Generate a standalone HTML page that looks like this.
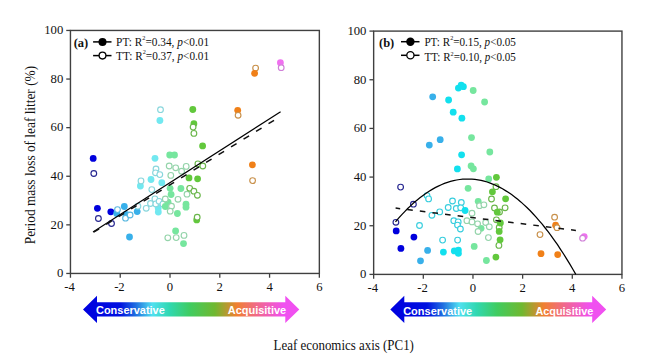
<!DOCTYPE html>
<html><head><meta charset="utf-8"><style>
html,body{margin:0;padding:0;background:#fff;}
svg{display:block;}
.tk{font-family:"Liberation Serif",serif;font-size:12.7px;fill:#111;}
.lg{font-family:"Liberation Serif",serif;font-size:12.2px;fill:#111;}
.pl{font-family:"Liberation Serif",serif;font-size:12.5px;font-weight:bold;fill:#111;}
.ti{font-family:"Liberation Serif",serif;font-size:14px;fill:#111;}
.ar{font-family:"Liberation Sans",sans-serif;font-size:11.6px;font-weight:bold;fill:#fff;}
</style></head><body>
<svg width="650" height="359" viewBox="0 0 650 359">
<rect width="650" height="359" fill="#fff"/>
<rect x="70.45" y="30.45" width="248.90000000000003" height="243.0" fill="none" stroke="#404040" stroke-width="1.4"/>
<line x1="66.25" y1="273.45" x2="70.45" y2="273.45" stroke="#404040" stroke-width="1.3"/>
<text transform="translate(63.25,277.25) scale(1,1.05)" text-anchor="end" class="tk">0</text>
<line x1="66.25" y1="224.85" x2="70.45" y2="224.85" stroke="#404040" stroke-width="1.3"/>
<text transform="translate(63.25,228.65) scale(1,1.05)" text-anchor="end" class="tk">20</text>
<line x1="66.25" y1="176.25" x2="70.45" y2="176.25" stroke="#404040" stroke-width="1.3"/>
<text transform="translate(63.25,180.05) scale(1,1.05)" text-anchor="end" class="tk">40</text>
<line x1="66.25" y1="127.65" x2="70.45" y2="127.65" stroke="#404040" stroke-width="1.3"/>
<text transform="translate(63.25,131.45) scale(1,1.05)" text-anchor="end" class="tk">60</text>
<line x1="66.25" y1="79.05" x2="70.45" y2="79.05" stroke="#404040" stroke-width="1.3"/>
<text transform="translate(63.25,82.85) scale(1,1.05)" text-anchor="end" class="tk">80</text>
<line x1="66.25" y1="30.45" x2="70.45" y2="30.45" stroke="#404040" stroke-width="1.3"/>
<text transform="translate(63.25,34.25) scale(1,1.05)" text-anchor="end" class="tk">100</text>
<line x1="70.45" y1="273.45" x2="70.45" y2="277.75" stroke="#404040" stroke-width="1.3"/>
<text transform="translate(69.65,290.85) scale(1,1.05)" text-anchor="middle" class="tk">-4</text>
<line x1="120.23" y1="273.45" x2="120.23" y2="277.75" stroke="#404040" stroke-width="1.3"/>
<text transform="translate(119.43,290.85) scale(1,1.05)" text-anchor="middle" class="tk">-2</text>
<line x1="170.01" y1="273.45" x2="170.01" y2="277.75" stroke="#404040" stroke-width="1.3"/>
<text transform="translate(170.01,290.85) scale(1,1.05)" text-anchor="middle" class="tk">0</text>
<line x1="219.79" y1="273.45" x2="219.79" y2="277.75" stroke="#404040" stroke-width="1.3"/>
<text transform="translate(219.79,290.85) scale(1,1.05)" text-anchor="middle" class="tk">2</text>
<line x1="269.57" y1="273.45" x2="269.57" y2="277.75" stroke="#404040" stroke-width="1.3"/>
<text transform="translate(269.57,290.85) scale(1,1.05)" text-anchor="middle" class="tk">4</text>
<line x1="319.35" y1="273.45" x2="319.35" y2="277.75" stroke="#404040" stroke-width="1.3"/>
<text transform="translate(319.35,290.85) scale(1,1.05)" text-anchor="middle" class="tk">6</text>
<rect x="373.65" y="31.1" width="248.30000000000007" height="243.29999999999998" fill="none" stroke="#404040" stroke-width="1.4"/>
<line x1="369.45" y1="274.40" x2="373.65" y2="274.40" stroke="#404040" stroke-width="1.3"/>
<text transform="translate(366.45,278.20) scale(1,1.05)" text-anchor="end" class="tk">0</text>
<line x1="369.45" y1="225.74" x2="373.65" y2="225.74" stroke="#404040" stroke-width="1.3"/>
<text transform="translate(366.45,229.54) scale(1,1.05)" text-anchor="end" class="tk">20</text>
<line x1="369.45" y1="177.08" x2="373.65" y2="177.08" stroke="#404040" stroke-width="1.3"/>
<text transform="translate(366.45,180.88) scale(1,1.05)" text-anchor="end" class="tk">40</text>
<line x1="369.45" y1="128.42" x2="373.65" y2="128.42" stroke="#404040" stroke-width="1.3"/>
<text transform="translate(366.45,132.22) scale(1,1.05)" text-anchor="end" class="tk">60</text>
<line x1="369.45" y1="79.76" x2="373.65" y2="79.76" stroke="#404040" stroke-width="1.3"/>
<text transform="translate(366.45,83.56) scale(1,1.05)" text-anchor="end" class="tk">80</text>
<line x1="369.45" y1="31.10" x2="373.65" y2="31.10" stroke="#404040" stroke-width="1.3"/>
<text transform="translate(366.45,34.90) scale(1,1.05)" text-anchor="end" class="tk">100</text>
<line x1="373.65" y1="274.4" x2="373.65" y2="278.7" stroke="#404040" stroke-width="1.3"/>
<text transform="translate(372.85,291.80) scale(1,1.05)" text-anchor="middle" class="tk">-4</text>
<line x1="423.31" y1="274.4" x2="423.31" y2="278.7" stroke="#404040" stroke-width="1.3"/>
<text transform="translate(422.51,291.80) scale(1,1.05)" text-anchor="middle" class="tk">-2</text>
<line x1="472.97" y1="274.4" x2="472.97" y2="278.7" stroke="#404040" stroke-width="1.3"/>
<text transform="translate(472.97,291.80) scale(1,1.05)" text-anchor="middle" class="tk">0</text>
<line x1="522.63" y1="274.4" x2="522.63" y2="278.7" stroke="#404040" stroke-width="1.3"/>
<text transform="translate(522.63,291.80) scale(1,1.05)" text-anchor="middle" class="tk">2</text>
<line x1="572.29" y1="274.4" x2="572.29" y2="278.7" stroke="#404040" stroke-width="1.3"/>
<text transform="translate(572.29,291.80) scale(1,1.05)" text-anchor="middle" class="tk">4</text>
<line x1="621.95" y1="274.4" x2="621.95" y2="278.7" stroke="#404040" stroke-width="1.3"/>
<text transform="translate(621.95,291.80) scale(1,1.05)" text-anchor="middle" class="tk">6</text>
<circle cx="93.8" cy="173.5" r="2.85" fill="#fff" stroke="#262690" stroke-width="1.15"/>
<circle cx="98.4" cy="218.5" r="2.85" fill="#fff" stroke="#262690" stroke-width="1.15"/>
<circle cx="111.5" cy="223.5" r="2.85" fill="#fff" stroke="#262690" stroke-width="1.15"/>
<circle cx="93.2" cy="158.4" r="3.4" fill="#0000dd"/>
<circle cx="97.4" cy="208.3" r="3.4" fill="#0000dd"/>
<circle cx="110.8" cy="211.8" r="3.4" fill="#0000dd"/>
<circle cx="116.7" cy="213.5" r="3.4" fill="#38b0ea"/>
<circle cx="124.3" cy="206.5" r="3.4" fill="#38b0ea"/>
<circle cx="126" cy="214.5" r="3.4" fill="#38b0ea"/>
<circle cx="137.2" cy="211.6" r="3.4" fill="#38b0ea"/>
<circle cx="129.5" cy="237.0" r="3.4" fill="#38b0ea"/>
<circle cx="117.5" cy="209.6" r="2.85" fill="#fff" stroke="#5ab8e0" stroke-width="1.15"/>
<circle cx="125.5" cy="218.2" r="2.85" fill="#fff" stroke="#5ab8e0" stroke-width="1.15"/>
<circle cx="130.1" cy="215" r="2.85" fill="#fff" stroke="#5ab8e0" stroke-width="1.15"/>
<circle cx="159.9" cy="120.5" r="3.4" fill="#72e8f0"/>
<circle cx="155" cy="158.3" r="3.4" fill="#72e8f0"/>
<circle cx="140.4" cy="186" r="3.4" fill="#72e8f0"/>
<circle cx="151" cy="179.5" r="3.4" fill="#72e8f0"/>
<circle cx="161.8" cy="182.7" r="3.4" fill="#72e8f0"/>
<circle cx="158.2" cy="207.9" r="3.4" fill="#72e8f0"/>
<circle cx="158.3" cy="212" r="3.4" fill="#72e8f0"/>
<circle cx="160.5" cy="109.7" r="2.85" fill="#fff" stroke="#88d6dc" stroke-width="1.15"/>
<circle cx="156" cy="169" r="2.85" fill="#fff" stroke="#88d6dc" stroke-width="1.15"/>
<circle cx="155.5" cy="172.8" r="2.85" fill="#fff" stroke="#88d6dc" stroke-width="1.15"/>
<circle cx="159.8" cy="174.6" r="2.85" fill="#fff" stroke="#88d6dc" stroke-width="1.15"/>
<circle cx="141" cy="180.9" r="2.85" fill="#fff" stroke="#88d6dc" stroke-width="1.15"/>
<circle cx="151.8" cy="189.6" r="2.85" fill="#fff" stroke="#88d6dc" stroke-width="1.15"/>
<circle cx="137.9" cy="206.2" r="2.85" fill="#fff" stroke="#88d6dc" stroke-width="1.15"/>
<circle cx="146.2" cy="208.3" r="2.85" fill="#fff" stroke="#88d6dc" stroke-width="1.15"/>
<circle cx="150.5" cy="203.5" r="2.85" fill="#fff" stroke="#88d6dc" stroke-width="1.15"/>
<circle cx="154.9" cy="198.9" r="2.85" fill="#fff" stroke="#88d6dc" stroke-width="1.15"/>
<circle cx="155.8" cy="203.9" r="2.85" fill="#fff" stroke="#88d6dc" stroke-width="1.15"/>
<circle cx="159.1" cy="201.3" r="2.85" fill="#fff" stroke="#88d6dc" stroke-width="1.15"/>
<circle cx="162.9" cy="204.1" r="2.85" fill="#fff" stroke="#88d6dc" stroke-width="1.15"/>
<circle cx="169.7" cy="155" r="3.4" fill="#76e69e"/>
<circle cx="174.5" cy="155" r="3.4" fill="#76e69e"/>
<circle cx="170.1" cy="188.3" r="3.4" fill="#76e69e"/>
<circle cx="180.9" cy="188.5" r="3.4" fill="#76e69e"/>
<circle cx="171.1" cy="194.5" r="3.4" fill="#76e69e"/>
<circle cx="168.1" cy="202.2" r="3.4" fill="#76e69e"/>
<circle cx="165.3" cy="206.5" r="3.4" fill="#76e69e"/>
<circle cx="177.4" cy="213.5" r="3.4" fill="#76e69e"/>
<circle cx="186" cy="204.2" r="3.4" fill="#76e69e"/>
<circle cx="186" cy="207.2" r="3.4" fill="#76e69e"/>
<circle cx="175.6" cy="230.9" r="3.4" fill="#76e69e"/>
<circle cx="183.5" cy="243.6" r="3.4" fill="#76e69e"/>
<circle cx="169.2" cy="166" r="2.85" fill="#fff" stroke="#94d4aa" stroke-width="1.15"/>
<circle cx="175.7" cy="167.8" r="2.85" fill="#fff" stroke="#94d4aa" stroke-width="1.15"/>
<circle cx="186.2" cy="166.4" r="2.85" fill="#fff" stroke="#94d4aa" stroke-width="1.15"/>
<circle cx="181.6" cy="171.2" r="2.85" fill="#fff" stroke="#94d4aa" stroke-width="1.15"/>
<circle cx="170.8" cy="175.4" r="2.85" fill="#fff" stroke="#94d4aa" stroke-width="1.15"/>
<circle cx="187" cy="194.2" r="2.85" fill="#fff" stroke="#94d4aa" stroke-width="1.15"/>
<circle cx="165.3" cy="199" r="2.85" fill="#fff" stroke="#94d4aa" stroke-width="1.15"/>
<circle cx="178" cy="199.3" r="2.85" fill="#fff" stroke="#94d4aa" stroke-width="1.15"/>
<circle cx="171.5" cy="206.2" r="2.85" fill="#fff" stroke="#94d4aa" stroke-width="1.15"/>
<circle cx="170.2" cy="211.2" r="2.85" fill="#fff" stroke="#94d4aa" stroke-width="1.15"/>
<circle cx="167.8" cy="237.8" r="2.85" fill="#fff" stroke="#94d4aa" stroke-width="1.15"/>
<circle cx="176.2" cy="237.6" r="2.85" fill="#fff" stroke="#94d4aa" stroke-width="1.15"/>
<circle cx="184" cy="235.4" r="2.85" fill="#fff" stroke="#94d4aa" stroke-width="1.15"/>
<circle cx="192.8" cy="109.5" r="3.4" fill="#62c83c"/>
<circle cx="193.9" cy="123.7" r="3.4" fill="#62c83c"/>
<circle cx="202.6" cy="145.9" r="3.4" fill="#62c83c"/>
<circle cx="189" cy="177.9" r="3.4" fill="#62c83c"/>
<circle cx="197.6" cy="178.8" r="3.4" fill="#62c83c"/>
<circle cx="196.7" cy="219.9" r="3.4" fill="#62c83c"/>
<circle cx="193.1" cy="127.1" r="2.85" fill="#fff" stroke="#6ab64a" stroke-width="1.15"/>
<circle cx="193.9" cy="133.4" r="2.85" fill="#fff" stroke="#6ab64a" stroke-width="1.15"/>
<circle cx="197.9" cy="163.9" r="2.85" fill="#fff" stroke="#6ab64a" stroke-width="1.15"/>
<circle cx="202.8" cy="166" r="2.85" fill="#fff" stroke="#6ab64a" stroke-width="1.15"/>
<circle cx="189.7" cy="188.3" r="2.85" fill="#fff" stroke="#6ab64a" stroke-width="1.15"/>
<circle cx="193.9" cy="191.2" r="2.85" fill="#fff" stroke="#6ab64a" stroke-width="1.15"/>
<circle cx="197.4" cy="195.3" r="2.85" fill="#fff" stroke="#6ab64a" stroke-width="1.15"/>
<circle cx="197.2" cy="217.2" r="2.85" fill="#fff" stroke="#6ab64a" stroke-width="1.15"/>
<circle cx="237.7" cy="110.3" r="3.4" fill="#f08018"/>
<circle cx="252.4" cy="164.8" r="3.4" fill="#f08018"/>
<circle cx="238.1" cy="115.3" r="2.85" fill="#fff" stroke="#c8904a" stroke-width="1.15"/>
<circle cx="252.6" cy="180.6" r="2.85" fill="#fff" stroke="#c8904a" stroke-width="1.15"/>
<circle cx="255.6" cy="68.1" r="2.85" fill="#fff" stroke="#c8904a" stroke-width="1.15"/>
<circle cx="254.6" cy="73.3" r="3.4" fill="#f08018"/>
<circle cx="280.4" cy="62.7" r="3.4" fill="#f070f0"/>
<circle cx="281.2" cy="67.7" r="2.85" fill="#fff" stroke="#d080d8" stroke-width="1.15"/>
<circle cx="400.6" cy="187.1" r="2.85" fill="#fff" stroke="#262690" stroke-width="1.15"/>
<circle cx="413.4" cy="204.2" r="2.85" fill="#fff" stroke="#262690" stroke-width="1.15"/>
<circle cx="395.9" cy="222.3" r="2.85" fill="#fff" stroke="#262690" stroke-width="1.15"/>
<circle cx="396.2" cy="230.9" r="3.4" fill="#0000dd"/>
<circle cx="413.9" cy="237.1" r="3.4" fill="#0000dd"/>
<circle cx="400.9" cy="248.4" r="3.4" fill="#0000dd"/>
<circle cx="432.7" cy="96.8" r="3.4" fill="#38b0ea"/>
<circle cx="429.3" cy="145.1" r="3.4" fill="#38b0ea"/>
<circle cx="440.2" cy="139.7" r="3.4" fill="#38b0ea"/>
<circle cx="427.6" cy="250.4" r="3.4" fill="#38b0ea"/>
<circle cx="420.5" cy="260.8" r="3.4" fill="#38b0ea"/>
<circle cx="427" cy="195.6" r="2.85" fill="#fff" stroke="#38cede" stroke-width="1.15"/>
<circle cx="428.6" cy="198.9" r="2.85" fill="#fff" stroke="#38cede" stroke-width="1.15"/>
<circle cx="431.9" cy="215.3" r="2.85" fill="#fff" stroke="#38cede" stroke-width="1.15"/>
<circle cx="439.7" cy="211.9" r="2.85" fill="#fff" stroke="#38cede" stroke-width="1.15"/>
<circle cx="419.5" cy="225.5" r="2.85" fill="#fff" stroke="#38cede" stroke-width="1.15"/>
<circle cx="452.5" cy="201" r="2.85" fill="#fff" stroke="#38cede" stroke-width="1.15"/>
<circle cx="461.3" cy="202.5" r="2.85" fill="#fff" stroke="#38cede" stroke-width="1.15"/>
<circle cx="448.2" cy="207.5" r="2.85" fill="#fff" stroke="#38cede" stroke-width="1.15"/>
<circle cx="456.3" cy="208.5" r="2.85" fill="#fff" stroke="#38cede" stroke-width="1.15"/>
<circle cx="460.7" cy="207.8" r="2.85" fill="#fff" stroke="#38cede" stroke-width="1.15"/>
<circle cx="453.8" cy="220.7" r="2.85" fill="#fff" stroke="#38cede" stroke-width="1.15"/>
<circle cx="458.2" cy="221.9" r="2.85" fill="#fff" stroke="#38cede" stroke-width="1.15"/>
<circle cx="457.5" cy="225.1" r="2.85" fill="#fff" stroke="#38cede" stroke-width="1.15"/>
<circle cx="460.4" cy="229" r="2.85" fill="#fff" stroke="#38cede" stroke-width="1.15"/>
<circle cx="442.6" cy="240.1" r="2.85" fill="#fff" stroke="#38cede" stroke-width="1.15"/>
<circle cx="457.6" cy="240.1" r="2.85" fill="#fff" stroke="#38cede" stroke-width="1.15"/>
<circle cx="448.6" cy="100" r="3.4" fill="#12e0ee"/>
<circle cx="458.4" cy="88.1" r="3.4" fill="#12e0ee"/>
<circle cx="461.2" cy="85.1" r="3.4" fill="#12e0ee"/>
<circle cx="463.4" cy="86.7" r="3.4" fill="#12e0ee"/>
<circle cx="453.2" cy="112.2" r="3.4" fill="#12e0ee"/>
<circle cx="461.9" cy="118.2" r="3.4" fill="#12e0ee"/>
<circle cx="461.6" cy="154.8" r="3.4" fill="#12e0ee"/>
<circle cx="457.4" cy="168.9" r="3.4" fill="#12e0ee"/>
<circle cx="465.1" cy="210.5" r="3.4" fill="#12e0ee"/>
<circle cx="443.4" cy="252.1" r="3.4" fill="#12e0ee"/>
<circle cx="454.3" cy="250.9" r="3.4" fill="#12e0ee"/>
<circle cx="458.4" cy="250.1" r="3.4" fill="#12e0ee"/>
<circle cx="458.4" cy="253.4" r="3.4" fill="#12e0ee"/>
<circle cx="473.2" cy="90.5" r="3.4" fill="#76e69e"/>
<circle cx="484.6" cy="102" r="3.4" fill="#76e69e"/>
<circle cx="471.5" cy="137.6" r="3.4" fill="#76e69e"/>
<circle cx="489.8" cy="152" r="3.4" fill="#76e69e"/>
<circle cx="471.1" cy="166" r="3.4" fill="#76e69e"/>
<circle cx="473.4" cy="168.8" r="3.4" fill="#76e69e"/>
<circle cx="488.7" cy="179" r="3.4" fill="#76e69e"/>
<circle cx="468.1" cy="188.3" r="3.4" fill="#76e69e"/>
<circle cx="478.2" cy="201.3" r="3.4" fill="#76e69e"/>
<circle cx="481.1" cy="228.3" r="3.4" fill="#76e69e"/>
<circle cx="474.2" cy="246.4" r="3.4" fill="#76e69e"/>
<circle cx="486.4" cy="260.5" r="3.4" fill="#76e69e"/>
<circle cx="479.5" cy="205.7" r="2.85" fill="#fff" stroke="#94d4aa" stroke-width="1.15"/>
<circle cx="483.9" cy="204.8" r="2.85" fill="#fff" stroke="#94d4aa" stroke-width="1.15"/>
<circle cx="472" cy="213.2" r="2.85" fill="#fff" stroke="#94d4aa" stroke-width="1.15"/>
<circle cx="466.9" cy="220.7" r="2.85" fill="#fff" stroke="#94d4aa" stroke-width="1.15"/>
<circle cx="472" cy="221.9" r="2.85" fill="#fff" stroke="#94d4aa" stroke-width="1.15"/>
<circle cx="477.6" cy="223.8" r="2.85" fill="#fff" stroke="#94d4aa" stroke-width="1.15"/>
<circle cx="485.7" cy="222.5" r="2.85" fill="#fff" stroke="#94d4aa" stroke-width="1.15"/>
<circle cx="489.3" cy="226.8" r="2.85" fill="#fff" stroke="#94d4aa" stroke-width="1.15"/>
<circle cx="478.1" cy="231.5" r="2.85" fill="#fff" stroke="#94d4aa" stroke-width="1.15"/>
<circle cx="488.4" cy="237.6" r="2.85" fill="#fff" stroke="#94d4aa" stroke-width="1.15"/>
<circle cx="496" cy="186.7" r="2.85" fill="#fff" stroke="#6ab64a" stroke-width="1.15"/>
<circle cx="491.5" cy="199" r="2.85" fill="#fff" stroke="#6ab64a" stroke-width="1.15"/>
<circle cx="494.5" cy="208" r="2.85" fill="#fff" stroke="#6ab64a" stroke-width="1.15"/>
<circle cx="505.1" cy="207.8" r="2.85" fill="#fff" stroke="#6ab64a" stroke-width="1.15"/>
<circle cx="499.5" cy="212" r="2.85" fill="#fff" stroke="#6ab64a" stroke-width="1.15"/>
<circle cx="496.4" cy="219.8" r="2.85" fill="#fff" stroke="#6ab64a" stroke-width="1.15"/>
<circle cx="499.2" cy="227.5" r="2.85" fill="#fff" stroke="#6ab64a" stroke-width="1.15"/>
<circle cx="498.9" cy="245.4" r="2.85" fill="#fff" stroke="#6ab64a" stroke-width="1.15"/>
<circle cx="496.4" cy="177.3" r="3.4" fill="#62c83c"/>
<circle cx="492.4" cy="191.8" r="3.4" fill="#62c83c"/>
<circle cx="505.6" cy="198.8" r="3.4" fill="#62c83c"/>
<circle cx="497.3" cy="212.2" r="3.4" fill="#62c83c"/>
<circle cx="500.4" cy="223" r="3.4" fill="#62c83c"/>
<circle cx="499.2" cy="231.4" r="3.4" fill="#62c83c"/>
<circle cx="500.1" cy="239.8" r="3.4" fill="#62c83c"/>
<circle cx="495.9" cy="257.1" r="3.4" fill="#62c83c"/>
<circle cx="555.6" cy="225.2" r="3.4" fill="#f08018"/>
<circle cx="541" cy="253.7" r="3.4" fill="#f08018"/>
<circle cx="557.7" cy="254.6" r="3.4" fill="#f08018"/>
<circle cx="554.6" cy="217.2" r="2.85" fill="#fff" stroke="#c8904a" stroke-width="1.15"/>
<circle cx="557" cy="227.7" r="2.85" fill="#fff" stroke="#c8904a" stroke-width="1.15"/>
<circle cx="540" cy="234.6" r="2.85" fill="#fff" stroke="#c8904a" stroke-width="1.15"/>
<circle cx="584.2" cy="236.6" r="3.4" fill="#f070f0"/>
<circle cx="582.6" cy="238.2" r="2.85" fill="#fff" stroke="#d080d8" stroke-width="1.15"/>
<line x1="93" y1="232.1" x2="280.6" y2="111.7" stroke="#000" stroke-width="1.2"/>
<line x1="93" y1="232.6" x2="281" y2="116.0" stroke="#111" stroke-width="1.5" stroke-dasharray="6.5 8.2" stroke-dashoffset="-0.75"/>
<path d="M395.5,221.8 L398.6,218.2 L401.6,214.8 L404.7,211.6 L407.7,208.5 L410.8,205.6 L413.8,202.8 L416.9,200.2 L419.9,197.7 L423.0,195.4 L426.1,193.2 L429.1,191.2 L432.2,189.4 L435.2,187.6 L438.3,186.1 L441.3,184.7 L444.4,183.4 L447.5,182.3 L450.5,181.4 L453.6,180.6 L456.6,180.0 L459.7,179.5 L462.7,179.2 L465.8,179.0 L468.8,179.0 L471.9,179.1 L475.0,179.4 L478.0,179.8 L481.1,180.4 L484.1,181.1 L487.2,182.0 L490.2,183.1 L493.3,184.3 L496.3,185.6 L499.4,187.1 L502.5,188.8 L505.5,190.6 L508.6,192.5 L511.6,194.6 L514.7,196.9 L517.7,199.3 L520.8,201.9 L523.8,204.6 L526.9,207.5 L530.0,210.5 L533.0,213.7 L536.1,217.1 L539.1,220.6 L542.2,224.2 L545.2,228.0 L548.3,231.9 L551.4,236.1 L554.4,240.3 L557.5,244.7 L560.5,249.3 L563.6,254.0 L566.6,258.9 L569.7,263.9 L572.7,269.0 L575.8,274.4" fill="none" stroke="#000" stroke-width="1.25"/>
<line x1="395.6" y1="208.1" x2="575.9" y2="230.4" stroke="#111" stroke-width="1.5" stroke-dasharray="5.6 7.1" stroke-dashoffset="1.0"/>
<text x="73.7" y="46.8" class="pl">(a)</text>
<line x1="93.1" y1="41.9" x2="111.5" y2="41.9" stroke="#000" stroke-width="1.5"/>
<circle cx="102.5" cy="41.9" r="4.0" fill="#000"/>
<line x1="93.1" y1="55.6" x2="111.5" y2="55.6" stroke="#000" stroke-width="1.5"/>
<circle cx="102.5" cy="55.6" r="3.4" fill="#fff" stroke="#000" stroke-width="1.3"/>
<text transform="translate(116.1,45.5) scale(1,1.05)" class="lg" textLength="93" lengthAdjust="spacingAndGlyphs">PT: R<tspan dy="-5.2" font-size="6.8">2</tspan><tspan dy="5.2">=0.34, </tspan><tspan font-style="italic">p</tspan>&lt;0.01</text>
<text transform="translate(116.1,59.8) scale(1,1.05)" class="lg" textLength="93" lengthAdjust="spacingAndGlyphs">TT: R<tspan dy="-5.2" font-size="6.8">2</tspan><tspan dy="5.2">=0.37, </tspan><tspan font-style="italic">p</tspan>&lt;0.01</text>
<text x="379.0" y="47.3" class="pl">(b)</text>
<line x1="401" y1="41.7" x2="419.5" y2="41.7" stroke="#000" stroke-width="1.5"/>
<circle cx="410.4" cy="41.7" r="4.2" fill="#000"/>
<line x1="401" y1="55.3" x2="419.5" y2="55.3" stroke="#000" stroke-width="1.5"/>
<circle cx="410.4" cy="55.3" r="3.6" fill="#fff" stroke="#000" stroke-width="1.3"/>
<text transform="translate(424.4,45.7) scale(1,1.05)" class="lg" textLength="91.5" lengthAdjust="spacingAndGlyphs">PT: R<tspan dy="-5.2" font-size="6.8">2</tspan><tspan dy="5.2">=0.15, </tspan><tspan font-style="italic">p</tspan>&lt;0.05</text>
<text transform="translate(424.4,61.2) scale(1,1.05)" class="lg" textLength="91.5" lengthAdjust="spacingAndGlyphs">TT: R<tspan dy="-5.2" font-size="6.8">2</tspan><tspan dy="5.2">=0.10, </tspan><tspan font-style="italic">p</tspan>&lt;0.05</text>
<linearGradient id="g1" x1="83" y1="0" x2="299.3" y2="0" gradientUnits="userSpaceOnUse">
<stop offset="0" stop-color="#0000e0"/>
<stop offset="0.17" stop-color="#0010e0"/>
<stop offset="0.245" stop-color="#2070e0"/>
<stop offset="0.32" stop-color="#50e0f0"/>
<stop offset="0.40" stop-color="#30d8b0"/>
<stop offset="0.495" stop-color="#40cc60"/>
<stop offset="0.61" stop-color="#70b830"/>
<stop offset="0.71" stop-color="#f08030"/>
<stop offset="0.81" stop-color="#f06890"/>
<stop offset="0.925" stop-color="#f050f0"/>
<stop offset="1" stop-color="#f050f0"/>
</linearGradient>
<path d="M83.0,309.4 L97.0,295.8 L97.0,302.2 L285.3,302.2 L285.3,295.8 L299.3,309.4 L285.3,323.0 L285.3,316.6 L97.0,316.6 L97.0,323.0Z" fill="url(#g1)"/>
<text x="96" y="314.1" class="ar" textLength="68.8" lengthAdjust="spacingAndGlyphs">Conservative</text>
<text x="227.8" y="314.1" class="ar" fill="#fffbe8" textLength="58.4" lengthAdjust="spacingAndGlyphs">Acquisitive</text>
<linearGradient id="g2" x1="390.3" y1="0" x2="606.2" y2="0" gradientUnits="userSpaceOnUse">
<stop offset="0" stop-color="#0000e0"/>
<stop offset="0.17" stop-color="#0010e0"/>
<stop offset="0.245" stop-color="#2070e0"/>
<stop offset="0.32" stop-color="#50e0f0"/>
<stop offset="0.40" stop-color="#30d8b0"/>
<stop offset="0.495" stop-color="#40cc60"/>
<stop offset="0.61" stop-color="#70b830"/>
<stop offset="0.71" stop-color="#f08030"/>
<stop offset="0.81" stop-color="#f06890"/>
<stop offset="0.925" stop-color="#f050f0"/>
<stop offset="1" stop-color="#f050f0"/>
</linearGradient>
<path d="M390.3,309.4 L404.3,295.8 L404.3,302.2 L592.2,302.2 L592.2,295.8 L606.2,309.4 L592.2,323.0 L592.2,316.6 L404.3,316.6 L404.3,323.0Z" fill="url(#g2)"/>
<text x="403.2" y="314.5" class="ar" textLength="69.0" lengthAdjust="spacingAndGlyphs">Conservative</text>
<text x="535.4" y="314.5" class="ar" fill="#fffbe8" textLength="58.0" lengthAdjust="spacingAndGlyphs">Acquisitive</text>
<text transform="translate(273.6,349.7)" class="ti" textLength="140.3" lengthAdjust="spacingAndGlyphs">Leaf economics axis (PC1)</text>
<text transform="translate(34.8,244.2) rotate(-90)" x="0" y="0" class="ti" style="font-size:13.7px" textLength="178.3" lengthAdjust="spacingAndGlyphs">Period mass loss of leaf litter (%)</text>
</svg>
</body></html>
